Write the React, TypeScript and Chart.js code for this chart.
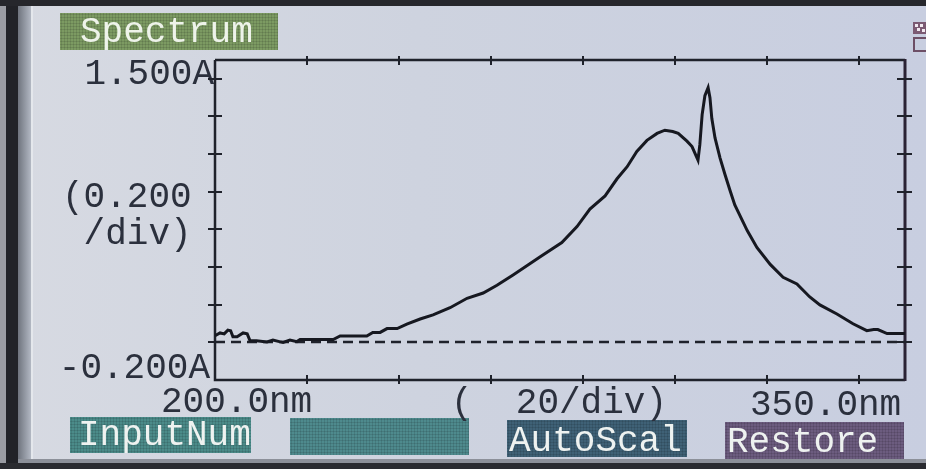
import { useEffect, useRef } from "react";
import { Chart, registerables } from "chart.js";

Chart.register(...registerables);

// ---- data ----
const wavelengths = [
  200.0, 201.1, 202.0, 202.8, 203.4, 203.9, 204.8, 206.1, 207.0, 207.6, 209.0, 211.3, 212.6, 214.0,
  214.8, 216.3, 217.8, 218.5, 225.7, 227.2, 233.0, 234.3, 235.9, 237.4, 239.6, 241.7, 244.6, 247.4,
  251.1, 254.8, 258.3, 261.3, 264.8, 270.7, 275.4, 278.7, 281.5, 284.8, 287.4, 289.6, 291.7, 293.9,
  296.1, 297.8, 299.5, 300.7, 302.6, 303.7, 305.0, 305.4, 305.9, 306.5, 307.2, 307.6, 308.0, 308.7,
  309.8, 310.9, 312.0, 313.0, 315.7, 317.8, 320.7, 323.5, 326.5, 329.3, 331.5, 335.2, 338.7, 341.7,
  343.2, 344.1, 346.1, 350.0,
];
const absorbance = [
  0.035, 0.05, 0.045, 0.065, 0.062, 0.03, 0.03, 0.05, 0.045, 0.01, 0.008, 0.002, 0.012, 0.004,
  0.0, 0.012, 0.004, 0.015, 0.015, 0.034, 0.034, 0.053, 0.053, 0.073, 0.073, 0.097, 0.124, 0.146,
  0.184, 0.234, 0.262, 0.303, 0.358, 0.455, 0.53, 0.615, 0.708, 0.778, 0.869, 0.933, 1.014, 1.073,
  1.11, 1.127, 1.12, 1.11, 1.069, 1.04, 0.968, 1.05, 1.21, 1.31, 1.353, 1.3, 1.19, 1.086,
  0.979, 0.889, 0.804, 0.73, 0.594, 0.504, 0.414, 0.346, 0.31, 0.241, 0.199, 0.151, 0.099, 0.062,
  0.068, 0.068, 0.047, 0.047,
];
const xMin = 200;
const xMax = 350;
const yMin = -0.2;
const yMax = 1.5;
const xDivisions = [220, 240, 260, 280, 300, 320, 340];
const yDivisions = [0.0, 0.2, 0.4, 0.6, 0.8, 1.0, 1.2, 1.4];
const baselineValue = 0.0;
const yTopLabel = "1.500A";
const yBottomLabel = "-0.200A";
const yDivLabel = ["(0.200", " /div)"];
const xLeftLabel = "200.0nm";
const xDivLabel = "(  20/div)";
const xRightLabel = "350.0nm";
const titleLabel = "Spectrum";
const buttonLabels = ["InputNum", "", "AutoScal", "Restore"];

const FONT = "36px 'Liberation Mono', 'DejaVu Sans Mono', monospace";
const INK = "#2b303d";
const AXIS = "#1f222b";

function texture(ctx: CanvasRenderingContext2D, x: number, y: number, w: number, h: number) {
  ctx.save();
  ctx.strokeStyle = "rgba(0,0,0,0.10)";
  ctx.lineWidth = 1;
  ctx.beginPath();
  for (let i = x + 1.5; i < x + w; i += 3) {
    ctx.moveTo(i, y);
    ctx.lineTo(i, y + h);
  }
  for (let j = y + 1.5; j < y + h; j += 3) {
    ctx.moveTo(x, j);
    ctx.lineTo(x + w, j);
  }
  ctx.stroke();
  ctx.restore();
}

const screenPlugin = {
  id: "screen",
  beforeDraw(chart: any) {
    const { ctx, width, height } = chart;
    ctx.save();
    // LCD background
    const g = ctx.createLinearGradient(0, 0, width, 0);
    g.addColorStop(0, "#d7dae2");
    g.addColorStop(0.45, "#ced3df");
    g.addColorStop(1, "#c8cee0");
    ctx.fillStyle = g;
    ctx.fillRect(0, 0, width, height);
    // bezel
    ctx.fillStyle = "#9a9ca3";
    ctx.fillRect(0, 0, 6, height);
    ctx.fillStyle = "#222328";
    ctx.fillRect(6, 0, 12, height);
    const bg = ctx.createLinearGradient(18, 0, 32, 0);
    bg.addColorStop(0, "#6f747e");
    bg.addColorStop(1, "#b7bdc8");
    ctx.fillStyle = bg;
    ctx.fillRect(18, 0, 14, height);
    ctx.fillStyle = "#e4e7ec";
    ctx.fillRect(31, 0, 2, height);
    ctx.fillStyle = "#26272c";
    ctx.fillRect(0, 0, width, 6);
    ctx.fillStyle = "#8c9099";
    ctx.fillRect(18, 459, width, 4);
    ctx.fillStyle = "#2a2b30";
    ctx.fillRect(0, 463, width, height - 463);

    // title box
    ctx.fillStyle = "#7c9a62";
    ctx.fillRect(60, 13, 218, 37);
    texture(ctx, 60, 13, 218, 37);
    // buttons
    const boxes = [
      { x: 70, y: 417, w: 181, h: 36, c: "#4b8b89", tx: 78, ty: 445 },
      { x: 290, y: 418, w: 179, h: 37, c: "#4e8a8d", tx: 296, ty: 448 },
      { x: 507, y: 420, w: 180, h: 37, c: "#3f6176", tx: 509, ty: 451 },
      { x: 725, y: 422, w: 179, h: 37, c: "#6c5c7f", tx: 727, ty: 452 },
    ];
    ctx.font = FONT;
    ctx.textBaseline = "alphabetic";
    boxes.forEach((b, i) => {
      ctx.fillStyle = b.c;
      ctx.fillRect(b.x, b.y, b.w, b.h);
      texture(ctx, b.x, b.y, b.w, b.h);
      ctx.fillStyle = "#eef2f0";
      ctx.textAlign = "left";
      ctx.fillText(buttonLabels[i], b.tx, b.ty);
    });
    ctx.fillStyle = "#eef3ea";
    ctx.textAlign = "left";
    ctx.fillText(titleLabel, 80, 42);

    // top-right icons
    ctx.fillStyle = "#7b5a73";
    ctx.fillRect(913, 22, 13, 12);
    ctx.fillStyle = "#f1e9f0";
    ctx.fillRect(915, 24, 3, 3);
    ctx.fillRect(920, 24, 3, 3);
    ctx.fillRect(917, 28, 3, 3);
    ctx.fillRect(922, 29, 3, 3);
    ctx.strokeStyle = "#6d4f66";
    ctx.lineWidth = 2;
    ctx.strokeRect(914, 38, 13, 13);

    // axis labels
    const area = chart.chartArea;
    const ys = chart.scales.y;
    ctx.fillStyle = INK;
    ctx.textAlign = "right";
    ctx.fillText(yTopLabel, area.left - 1, ys.getPixelForValue(yMax) + 24);
    ctx.fillText(yBottomLabel, area.left - 5, ys.getPixelForValue(yMin) - 2);
    ctx.textAlign = "left";
    ctx.fillText(yDivLabel[0], 62, 207);
    ctx.fillText(yDivLabel[1], 62, 244);
    ctx.fillText(xLeftLabel, 161, 412);
    ctx.fillText(xDivLabel, 451, 413);
    ctx.fillText(xRightLabel, 750, 415);
    ctx.restore();
  },
  beforeDatasetsDraw(chart: any) {
    const { ctx } = chart;
    const a = chart.chartArea;
    const xs = chart.scales.x;
    const ys = chart.scales.y;
    ctx.save();
    // dashed baseline
    ctx.strokeStyle = AXIS;
    ctx.lineWidth = 2.5;
    ctx.setLineDash([10, 6]);
    const y0 = Math.round(ys.getPixelForValue(baselineValue));
    ctx.beginPath();
    ctx.moveTo(a.left, y0);
    ctx.lineTo(a.right, y0);
    ctx.stroke();
    ctx.setLineDash([]);
    // frame
    ctx.lineWidth = 2.5;
    ctx.beginPath();
    ctx.moveTo(a.left, a.top);
    ctx.lineTo(a.right, a.top);
    ctx.moveTo(a.left, a.top);
    ctx.lineTo(a.left, a.bottom);
    ctx.lineTo(a.right, a.bottom);
    ctx.stroke();
    ctx.strokeStyle = "#2a2234";
    ctx.lineWidth = 3;
    ctx.beginPath();
    ctx.moveTo(a.right, a.top - 1);
    ctx.lineTo(a.right, a.bottom + 1);
    ctx.stroke();
    // ticks
    ctx.strokeStyle = AXIS;
    ctx.lineWidth = 2;
    ctx.beginPath();
    xDivisions.forEach((v) => {
      const x = Math.round(xs.getPixelForValue(v));
      ctx.moveTo(x, a.top - 4);
      ctx.lineTo(x, a.top + 5);
      ctx.moveTo(x, a.bottom - 5);
      ctx.lineTo(x, a.bottom + 4);
    });
    yDivisions.forEach((v) => {
      const y = Math.round(ys.getPixelForValue(v));
      ctx.moveTo(a.left - 7, y);
      ctx.lineTo(a.left + 7, y);
      ctx.moveTo(a.right - 8, y);
      ctx.lineTo(a.right + 7, y);
    });
    ctx.stroke();
    ctx.restore();
  },
};

export default function App() {
  const ref = useRef<HTMLCanvasElement | null>(null);
  useEffect(() => {
    document.body.style.margin = "0";
    const canvas = ref.current;
    if (!canvas) return;
    const chart = new Chart(canvas, {
      type: "line",
      data: {
        datasets: [
          {
            data: wavelengths.map((w, i) => ({ x: w, y: absorbance[i] })),
            borderColor: "#161820",
            borderWidth: 3,
            pointRadius: 0,
            tension: 0,
            fill: false,
          },
        ],
      },
      options: {
        animation: false,
        responsive: false,
        events: [],
        layout: { padding: { left: 215, right: 21, top: 60, bottom: 89 } },
        plugins: { legend: { display: false }, tooltip: { enabled: false } },
        scales: {
          x: { type: "linear", min: xMin, max: xMax, display: false },
          y: { type: "linear", min: yMin, max: yMax, display: false },
        },
      },
      plugins: [screenPlugin],
    });
    return () => chart.destroy();
  }, []);
  return (
    <div style={{ position: "fixed", left: 0, top: 0, width: 926, height: 469 }}>
      <canvas ref={ref} width={926} height={469} style={{ display: "block" }} />
    </div>
  );
}
